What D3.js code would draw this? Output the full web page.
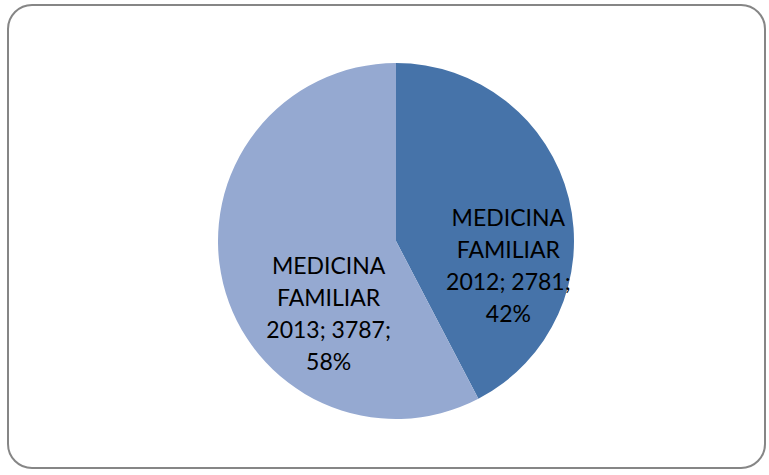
<!DOCTYPE html>
<html>
<head>
<meta charset="utf-8">
<script src="https://cdn.jsdelivr.net/npm/d3@7"></script>
<style>
  body { margin: 0; background: #fff; }
  text { font-family: Lato, "Open Sans", sans-serif; }
</style>
</head>
<body>
<script>
// chart values
var categories = ['MEDICINA FAMILIAR 2012', 'MEDICINA FAMILIAR 2013'];
var values = [2781, 3787];
var percents = ['42%', '58%'];
var colors = ['#4673a9', '#95a9d1'];

var svgwidth = 769, svgheight = 475;

var svg = d3.select('body').append('svg')
            .attr('width', svgwidth)
            .attr('height', svgheight);

// outer frame
svg.append('rect')
   .attr('x', 8).attr('y', 5)
   .attr('width', 757).attr('height', 463)
   .attr('rx', 24).attr('ry', 24)
   .attr('fill', '#fff')
   .attr('stroke', '#868686')
   .attr('stroke-width', 2);

var cx = 396, cy = 241, radius = 178;

var pie = d3.pie().sort(null).value(function(d){ return d; });
var arcs = pie(values);

var arc = d3.arc().innerRadius(0).outerRadius(radius);
var labelArc = d3.arc().innerRadius(radius*0.65).outerRadius(radius*0.65);

var g = svg.append('g').attr('transform', 'translate(' + cx + ',' + cy + ')');

g.selectAll('.slice').data(arcs).enter()
  .append('path')
  .attr('d', arc)
  .attr('fill', function(d,i){ return colors[i]; });

// label nudges (Excel best-fit placement)
var nudge = [[0, 52], [45, 44]];
var lineH = 32;

arcs.forEach(function(d, i){
  var c = labelArc.centroid(d);
  var x = c[0] + nudge[i][0];
  var y = c[1] + nudge[i][1];
  var words = categories[i].split(' ');
  var lines = [words[0], words[1], words[2] + '; ' + values[i] + ';', percents[i]];
  var t = g.append('text')
           .attr('text-anchor', 'middle')
           .attr('font-size', 23)
           .attr('fill', '#000');
  lines.forEach(function(l, j){
    t.append('tspan')
     .attr('x', x)
     .attr('y', y - 39 + j*lineH)
     .text(l);
  });
});
</script>
</body>
</html>
